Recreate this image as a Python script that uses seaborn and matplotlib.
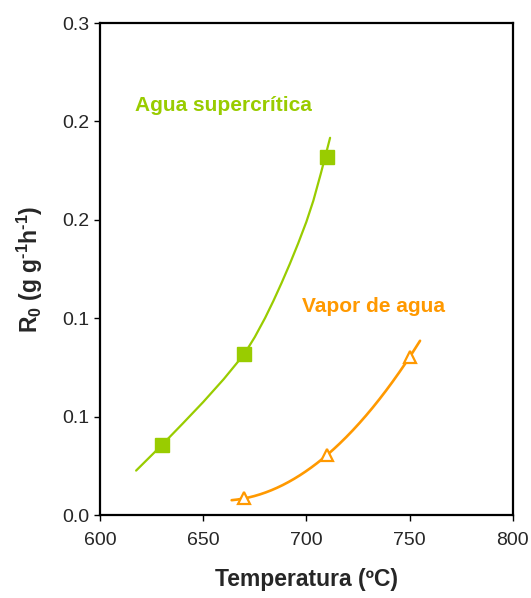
import numpy as np
import pandas as pd
import matplotlib
matplotlib.use("Agg")
import matplotlib.pyplot as plt
import seaborn as sns

# ---- data ----
temp_sc = [630, 670, 710]
r0_sc = [0.0357, 0.0820, 0.1819]

temp_vap = [670, 710, 750]
r0_vap = [0.0086, 0.0306, 0.0803]

# model curve for supercritical water
curve_sc_t = [617.5, 630, 640, 650, 660, 670, 675, 680, 684, 688, 692, 696,
              700, 703.4, 707, 709, 711.5]
curve_sc_r = [0.0227, 0.0357, 0.0465, 0.0575, 0.0692, 0.0820, 0.0905, 0.1002,
              0.1088, 0.1180, 0.1277, 0.1380, 0.1490, 0.1598, 0.1735, 0.1815,
              0.1917]

# range of the polynomial trend line for steam
trend_vap_range = [663.8, 755.1]

x_ticks = [600, 650, 700, 750, 800]
y_ticks = [0.0, 0.05, 0.10, 0.15, 0.20, 0.25]
y_tick_labels = ["0.0", "0.1", "0.1", "0.2", "0.2", "0.3"]

GREEN = "#99CC00"
ORANGE = "#FF9900"

sns.set_style("ticks")
plt.rcParams["font.family"] = ["Liberation Sans", "DejaVu Sans"]
plt.rcParams["mathtext.fontset"] = "custom"
plt.rcParams["mathtext.rm"] = "Liberation Sans:bold"
plt.rcParams["mathtext.bf"] = "Liberation Sans:bold"

fig = plt.figure(figsize=(5.31, 5.98), dpi=100)
ax = fig.add_axes([100 / 531, 1 - 515.3 / 598, 412.7 / 531, (515.3 - 23) / 598])

# steam trend line (2nd order polynomial through the points)
coef = np.polyfit(temp_vap, r0_vap, 2)
tv = np.linspace(trend_vap_range[0], trend_vap_range[1], 200)
df_tv = pd.DataFrame({"T": tv, "R": np.polyval(coef, tv)})
sns.lineplot(data=df_tv, x="T", y="R", ax=ax, color=ORANGE, lw=1.9, sort=False)

# supercritical curve
df_cs = pd.DataFrame({"T": curve_sc_t, "R": curve_sc_r})
sns.lineplot(data=df_cs, x="T", y="R", ax=ax, color=GREEN, lw=1.6, sort=False)

# markers
df_sc = pd.DataFrame({"T": temp_sc, "R": r0_sc})
df_vap = pd.DataFrame({"T": temp_vap, "R": r0_vap})
ax.plot(df_sc["T"], df_sc["R"], ls="none", marker="s", ms=9.5,
        mfc=GREEN, mec=GREEN, zorder=5)
ax.plot(df_vap["T"], df_vap["R"], ls="none", marker="^", ms=9,
        mfc="white", mec=ORANGE, mew=1.6, zorder=5)

ax.text(617, 0.208, "Agua supercrítica", color=GREEN, fontsize=15,
        fontweight="bold", va="center", ha="left")
ax.text(697.8, 0.106, "Vapor de agua", color=ORANGE, fontsize=15,
        fontweight="bold", va="center", ha="left")

ax.set_xlim(600, 800)
ax.set_ylim(0, 0.25)
ax.set_xticks(x_ticks)
ax.set_yticks(y_ticks)
ax.set_yticklabels(y_tick_labels)
ax.tick_params(axis="both", labelsize=14, length=4, width=1, color="black",
               direction="out")
ax.tick_params(axis="x", pad=8)
ax.tick_params(axis="y", pad=4)

for s in ax.spines.values():
    s.set_visible(True)
    s.set_color("black")
    s.set_linewidth(1.6)

ax.set_xlabel("Temperatura (ºC)", fontsize=16.5, fontweight="bold", labelpad=14)
ax.set_ylabel(r"R$_0$ (g g$^{\text{-1}}$h$^{\text{-1}}$)", fontsize=16.5,
              fontweight="bold", labelpad=12)

fig.savefig("out.png", dpi=100, facecolor="white")
